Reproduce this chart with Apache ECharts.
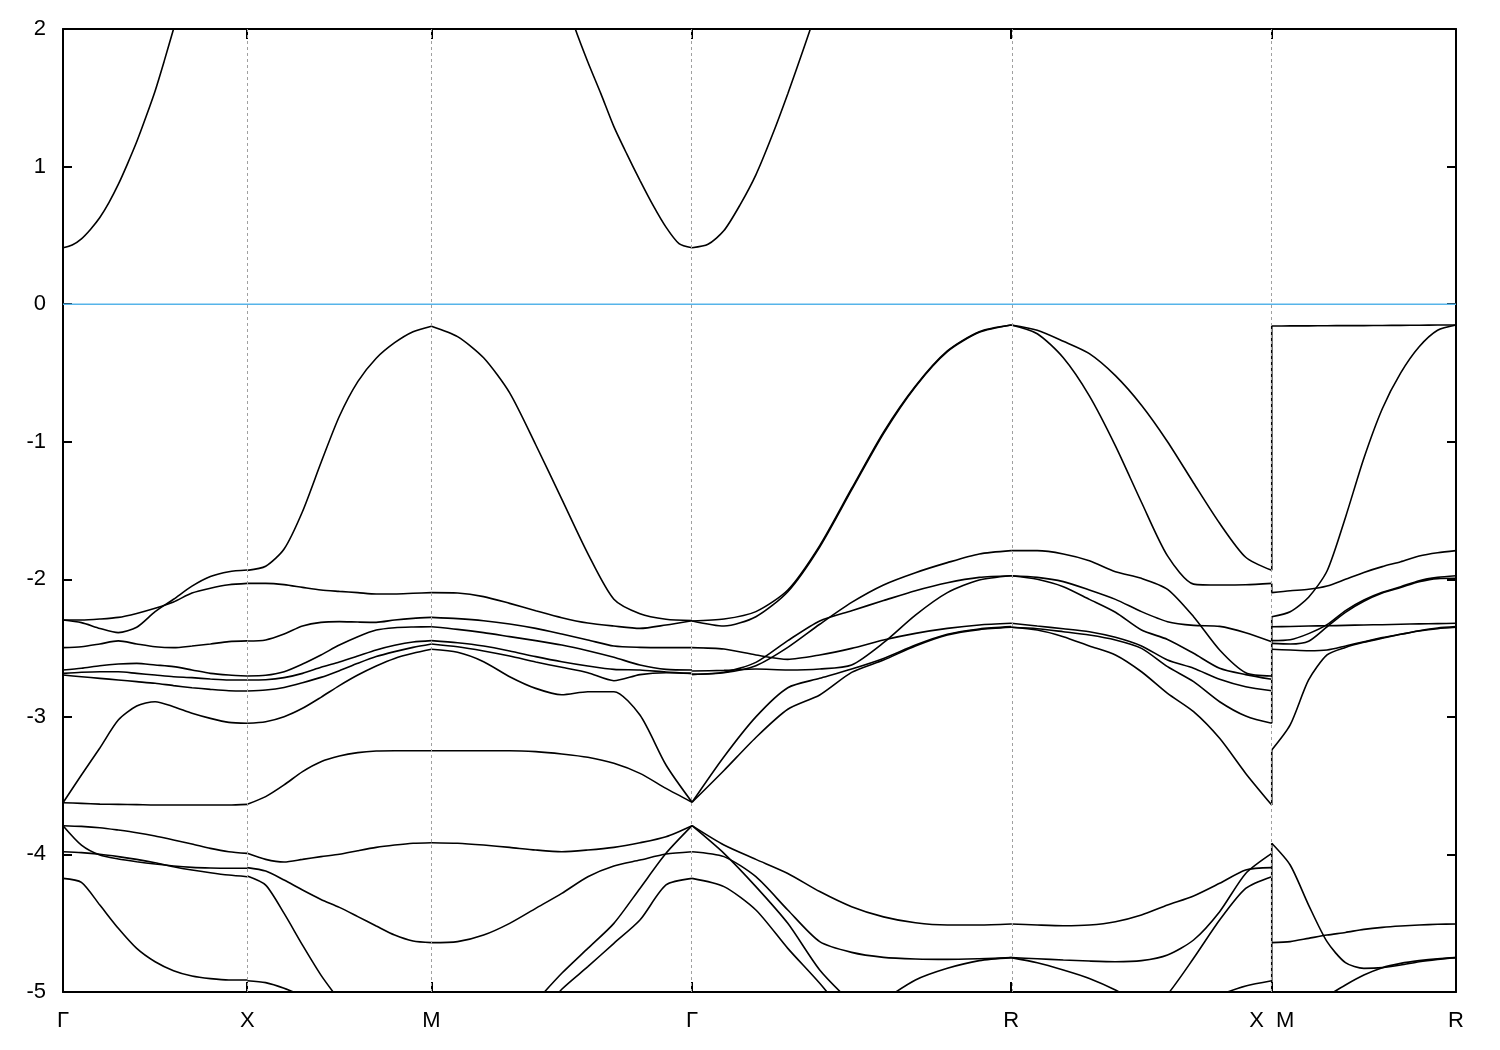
<!DOCTYPE html>
<html><head><meta charset="utf-8">
<script src="https://cdn.jsdelivr.net/npm/echarts@6/dist/echarts.min.js"></script>
<style>html,body{margin:0;padding:0;background:#fff}#c{width:1500px;height:1050px}</style>
</head><body><div id="c"></div>
<script>
// k-path tick positions and labels
const kLabels = ['Γ', 'X', 'M', 'Γ', 'R', 'X  M', 'R'];
const kPos = [0, 1, 2, 3.4142, 5.1463, 6.5605, 7.5605];

// conduction band pieces (21 evenly spaced samples per segment, eV)
const cbGX = [0.410, 0.43, 0.475, 0.545, 0.63, 0.74, 0.87, 1.02, 1.18, 1.36, 1.55, 1.77, 2.0, 2.23, null, null, null, null, null, null, null];
const cbMG = [null, null, null, null, null, null, null, null, null, null, 2.30, 2.01, 1.76, 1.53, 1.29, 1.09, 0.90, 0.72, 0.56, 0.44, 0.410];
const cbGR = [0.410, 0.435, 0.535, 0.72, 0.94, 1.22, 1.53, 1.86, 2.2, null, null, null, null, null, null, null, null, null, null, null, null];

// valence bands: each segment's curves sampled at 11 evenly spaced k points (eV)
const bandsGX = [
  [-2.296, -2.315, -2.357, -2.388, -2.349, -2.235, -2.145, -2.05, -1.98, -1.945, -1.933],
  [-2.296, -2.296, -2.289, -2.277, -2.248, -2.211, -2.165, -2.10, -2.065, -2.04, -2.030],
  [-2.497, -2.490, -2.470, -2.448, -2.470, -2.490, -2.497, -2.485, -2.470, -2.453, -2.448],
  [-2.659, -2.647, -2.628, -2.616, -2.611, -2.623, -2.635, -2.659, -2.684, -2.696, -2.703],
  [-2.684, -2.676, -2.672, -2.672, -2.684, -2.696, -2.708, -2.715, -2.725, -2.732, -2.732],
  [-2.696, -2.708, -2.720, -2.732, -2.744, -2.756, -2.773, -2.788, -2.800, -2.810, -2.812],
  [-3.624, -3.423, -3.226, -3.023, -2.921, -2.890, -2.926, -2.974, -3.011, -3.040, -3.047],
  [-3.624, -3.629, -3.634, -3.636, -3.638, -3.641, -3.641, -3.641, -3.641, -3.641, -3.636],
  [-3.791, -3.796, -3.806, -3.823, -3.842, -3.866, -3.895, -3.924, -3.956, -3.980, -3.992],
  [-3.791, -3.932, -4.004, -4.033, -4.053, -4.070, -4.084, -4.094, -4.099, -4.101, -4.101],
  [-3.980, -3.987, -3.999, -4.016, -4.036, -4.060, -4.089, -4.113, -4.133, -4.150, -4.162],
  [-4.174, -4.203, -4.368, -4.537, -4.683, -4.780, -4.845, -4.884, -4.903, -4.913, -4.913]
];
const bandsXM = [
  [-1.935, -1.905, -1.78, -1.507, -1.153, -0.815, -0.563, -0.393, -0.28, -0.20, -0.16],
  [-2.030, -2.030, -2.039, -2.059, -2.078, -2.088, -2.097, -2.107, -2.107, -2.102, -2.097],
  [-2.449, -2.441, -2.398, -2.340, -2.313, -2.308, -2.311, -2.313, -2.296, -2.284, -2.277],
  [-2.703, -2.698, -2.672, -2.616, -2.550, -2.478, -2.417, -2.369, -2.352, -2.347, -2.345],
  [-2.732, -2.730, -2.715, -2.684, -2.640, -2.601, -2.558, -2.514, -2.480, -2.456, -2.446],
  [-2.812, -2.805, -2.786, -2.752, -2.713, -2.664, -2.611, -2.562, -2.526, -2.495, -2.470],
  [-3.047, -3.035, -2.999, -2.938, -2.858, -2.773, -2.696, -2.630, -2.575, -2.538, -2.509],
  [-3.636, -3.580, -3.495, -3.398, -3.326, -3.285, -3.260, -3.248, -3.246, -3.246, -3.246],
  [-3.992, -4.036, -4.055, -4.036, -4.016, -3.999, -3.973, -3.949, -3.932, -3.919, -3.915],
  [-4.096, -4.121, -4.186, -4.259, -4.327, -4.385, -4.452, -4.520, -4.586, -4.629, -4.641],
  [-4.157, -4.223, -4.429, -4.659, -4.877, -5.06, null, null, null, null, null],
  [-4.918, -4.932, -4.973, -5.03, null, null, null, null, null, null, null]
];
const bandsMG = [
  [-0.16, -0.236, -0.39, -0.645, -1.022, -1.417, -1.813, -2.145, -2.25, -2.29, -2.30],
  [-2.097, -2.100, -2.126, -2.175, -2.228, -2.279, -2.318, -2.340, -2.357, -2.332, -2.301],
  [-2.277, -2.286, -2.301, -2.325, -2.357, -2.398, -2.441, -2.485, -2.495, -2.497, -2.497],
  [-2.345, -2.364, -2.388, -2.417, -2.446, -2.478, -2.519, -2.567, -2.623, -2.655, -2.659],
  [-2.446, -2.461, -2.485, -2.521, -2.562, -2.599, -2.630, -2.655, -2.659, -2.674, -2.684],
  [-2.470, -2.490, -2.521, -2.558, -2.601, -2.640, -2.679, -2.737, -2.693, -2.679, -2.684],
  [-2.509, -2.531, -2.599, -2.708, -2.793, -2.839, -2.817, -2.817, -2.987, -3.350, -3.621],
  [-3.246, -3.246, -3.246, -3.246, -3.253, -3.270, -3.294, -3.338, -3.411, -3.520, -3.621],
  [-3.915, -3.919, -3.932, -3.949, -3.968, -3.980, -3.968, -3.949, -3.915, -3.871, -3.791],
  [-4.641, -4.634, -4.586, -4.501, -4.392, -4.283, -4.162, -4.084, -4.041, -3.997, -3.980],
  [null, null, null, null, -5.07, -4.864, -4.683, -4.501, -4.247, -3.992, -3.791],
  [null, null, null, null, -5.2, -4.98, -4.816, -4.646, -4.477, -4.222, -4.174]
];
const bandsGR = [
  [-2.303, -2.289, -2.235, -2.078, -1.755, -1.34, -0.93, -0.595, -0.34, -0.20, -0.152],
  [-2.303, -2.340, -2.272, -2.090, -1.765, -1.35, -0.94, -0.60, -0.345, -0.205, -0.152],
  [-2.497, -2.507, -2.550, -2.582, -2.550, -2.502, -2.441, -2.393, -2.357, -2.332, -2.320],
  [-2.667, -2.662, -2.652, -2.659, -2.652, -2.623, -2.461, -2.260, -2.097, -2.005, -1.974],
  [-2.691, -2.679, -2.628, -2.495, -2.327, -2.168, -2.041, -1.952, -1.879, -1.816, -1.792],
  [-2.691, -2.676, -2.604, -2.446, -2.303, -2.228, -2.155, -2.083, -2.025, -1.986, -1.974],
  [-3.621, -3.29, -3.0, -2.788, -2.720, -2.652, -2.575, -2.478, -2.400, -2.361, -2.344],
  [-3.621, -3.39, -3.15, -2.945, -2.841, -2.677, -2.587, -2.485, -2.405, -2.366, -2.349],
  [-3.791, -3.932, -4.036, -4.138, -4.270, -4.380, -4.454, -4.497, -4.513, -4.513, -4.506],
  [-3.980, -4.016, -4.162, -4.404, -4.634, -4.712, -4.748, -4.760, -4.763, -4.758, -4.750],
  [-3.791, -3.992, -4.234, -4.501, -4.840, -5.08, null, null, null, null, null],
  [-4.174, -4.234, -4.404, -4.683, -4.937, -5.22, null, null, null, null, null],
  [null, null, null, null, null, null, -5.06, -4.913, -4.828, -4.772, -4.750]
];
const bandsRX = [
  [-0.152, -0.19, -0.27, -0.36, -0.52, -0.735, -1.00, -1.30, -1.593, -1.84, -1.935],
  [-0.152, -0.215, -0.39, -0.667, -1.03, -1.44, -1.83, -2.035, -2.042, -2.040, -2.030],
  [-1.792, -1.792, -1.816, -1.865, -1.945, -1.993, -2.073, -2.272, -2.514, -2.679, -2.703],
  [-1.974, -1.986, -2.017, -2.078, -2.146, -2.235, -2.308, -2.335, -2.342, -2.388, -2.454],
  [-1.974, -2.000, -2.054, -2.146, -2.240, -2.369, -2.437, -2.538, -2.647, -2.693, -2.727],
  [-2.320, -2.340, -2.359, -2.381, -2.422, -2.485, -2.587, -2.647, -2.727, -2.781, -2.810],
  [-2.349, -2.359, -2.381, -2.405, -2.441, -2.502, -2.635, -2.744, -2.890, -2.994, -3.047],
  [-2.349, -2.369, -2.417, -2.485, -2.550, -2.672, -2.829, -2.962, -3.156, -3.411, -3.641],
  [-4.506, -4.513, -4.518, -4.513, -4.489, -4.440, -4.368, -4.302, -4.210, -4.113, -4.096],
  [-4.750, -4.758, -4.767, -4.775, -4.780, -4.772, -4.731, -4.622, -4.416, -4.138, -3.992],
  [null, null, null, null, null, -5.2, -5.017, -4.755, -4.477, -4.247, -4.162],
  [-4.750, -4.787, -4.840, -4.901, -4.986, -5.1, null, null, null, null, null],
  [null, null, null, null, null, null, null, null, -5.02, -4.956, -4.918]
];
const bandsMR = [
  [-0.159, -0.158, -0.158, -0.157, -0.156, -0.156, -0.155, -0.154, -0.153, -0.152, -0.152],
  [-2.272, -2.236, -2.13, -1.94, -1.55, -1.12, -0.76, -0.50, -0.31, -0.19, -0.152],
  [-2.097, -2.083, -2.073, -2.049, -2.000, -1.950, -1.908, -1.872, -1.831, -1.807, -1.792],
  [-2.345, -2.343, -2.340, -2.338, -2.335, -2.332, -2.330, -2.327, -2.324, -2.322, -2.320],
  [-2.446, -2.440, -2.395, -2.330, -2.228, -2.151, -2.095, -2.054, -2.010, -1.986, -1.974],
  [-2.466, -2.470, -2.450, -2.345, -2.240, -2.160, -2.100, -2.060, -2.018, -1.995, -1.993],
  [-2.509, -2.514, -2.519, -2.514, -2.485, -2.454, -2.424, -2.400, -2.376, -2.359, -2.349],
  [-3.241, -3.059, -2.732, -2.550, -2.495, -2.458, -2.429, -2.400, -2.374, -2.354, -2.344],
  [-3.919, -4.077, -4.368, -4.634, -4.787, -4.828, -4.823, -4.804, -4.780, -4.763, -4.750],
  [-4.641, -4.634, -4.610, -4.586, -4.567, -4.545, -4.530, -4.520, -4.513, -4.508, -4.506],
  [null, null, null, -5.03, -4.949, -4.877, -4.823, -4.792, -4.772, -4.758, -4.750]
];
// vertical connections at the X|M discontinuity (energy from, energy to)
const xmJumps = [[-0.159, -1.935], [-2.030, -2.097], [-2.272, -3.047], [-3.241, -3.641], [-3.919, -5.2]];

const segments = [
  { k0: kPos[0], k1: kPos[1], curves: [cbGX].concat(bandsGX) },
  { k0: kPos[1], k1: kPos[2], curves: bandsXM },
  { k0: kPos[2], k1: kPos[3], curves: [cbMG].concat(bandsMG) },
  { k0: kPos[3], k1: kPos[4], curves: [cbGR].concat(bandsGR) },
  { k0: kPos[4], k1: kPos[5], curves: bandsRX },
  { k0: kPos[5], k1: kPos[6], curves: bandsMR }
];
const kMax = kPos[kPos.length - 1];
const bandStyle = { color: '#000', width: 1.6 };
const series = [];
series.push({
  type: 'line', data: [[0, 0], [kMax, 0]], symbol: 'none', silent: true,
  lineStyle: { color: '#56b4e9', width: 1.5 }, z: 1,
  markLine: {
    silent: true, symbol: ['none', 'none'], label: { show: false }, animation: false,
    lineStyle: { color: '#a0a0a0', type: [3, 3], width: 1 },
    data: kPos.slice(1, -1).map(v => ({ xAxis: v }))
  }
});
segments.forEach(seg => {
  seg.curves.forEach(c => {
    const n = c.length;
    series.push({
      type: 'line', symbol: 'none', silent: true, clip: true, smooth: 0.25,
      lineStyle: bandStyle, z: 3,
      data: c.map((e, i) => [seg.k0 + i * (seg.k1 - seg.k0) / (n - 1), e])
    });
  });
});
xmJumps.forEach(j => {
  series.push({
    type: 'line', symbol: 'none', silent: true, clip: true, lineStyle: bandStyle, z: 3,
    data: [[kPos[5], j[0]], [kPos[5], j[1]]]
  });
});

const font = '"Liberation Sans", Arial, sans-serif';
const labelFor = v => {
  const i = kPos.findIndex(p => Math.abs(p - v) < 1e-6);
  return i >= 0 ? kLabels[i] : '';
};
const chart = echarts.init(document.getElementById('c'), null, { renderer: 'canvas' });
chart.setOption({
  animation: false,
  backgroundColor: '#fff',
  grid: { left: 63, right: 44, top: 29, bottom: 58 },
  xAxis: [{
    type: 'value', min: 0, max: kMax, position: 'bottom',
    axisLine: { show: true, onZero: false, lineStyle: { color: '#000', width: 2 } },
    axisTick: { show: true, inside: true, length: 10, customValues: kPos, lineStyle: { color: '#000', width: 2 } },
    axisLabel: { show: true, customValues: kPos, formatter: labelFor, color: '#000', fontSize: 22, fontFamily: font, margin: 18 },
    splitLine: { show: false }
  }, {
    type: 'value', min: 0, max: kMax, position: 'top',
    axisLine: { show: true, onZero: false, lineStyle: { color: '#000', width: 2 } },
    axisTick: { show: true, inside: true, length: 10, customValues: kPos, lineStyle: { color: '#000', width: 2 } },
    axisLabel: { show: false }, splitLine: { show: false }
  }],
  yAxis: [{
    type: 'value', min: -5, max: 2, interval: 1, position: 'left',
    axisLine: { show: true, onZero: false, lineStyle: { color: '#000', width: 2 } },
    axisTick: { show: true, inside: true, length: 9, lineStyle: { color: '#000', width: 2 } },
    axisLabel: { show: true, color: '#000', fontSize: 22, fontFamily: font, margin: 17 },
    splitLine: { show: false }
  }, {
    type: 'value', min: -5, max: 2, interval: 1, position: 'right',
    axisLine: { show: true, onZero: false, lineStyle: { color: '#000', width: 2 } },
    axisTick: { show: true, inside: true, length: 9, lineStyle: { color: '#000', width: 2 } },
    axisLabel: { show: false }, splitLine: { show: false }
  }],
  series: series
});
</script>
</body></html>
